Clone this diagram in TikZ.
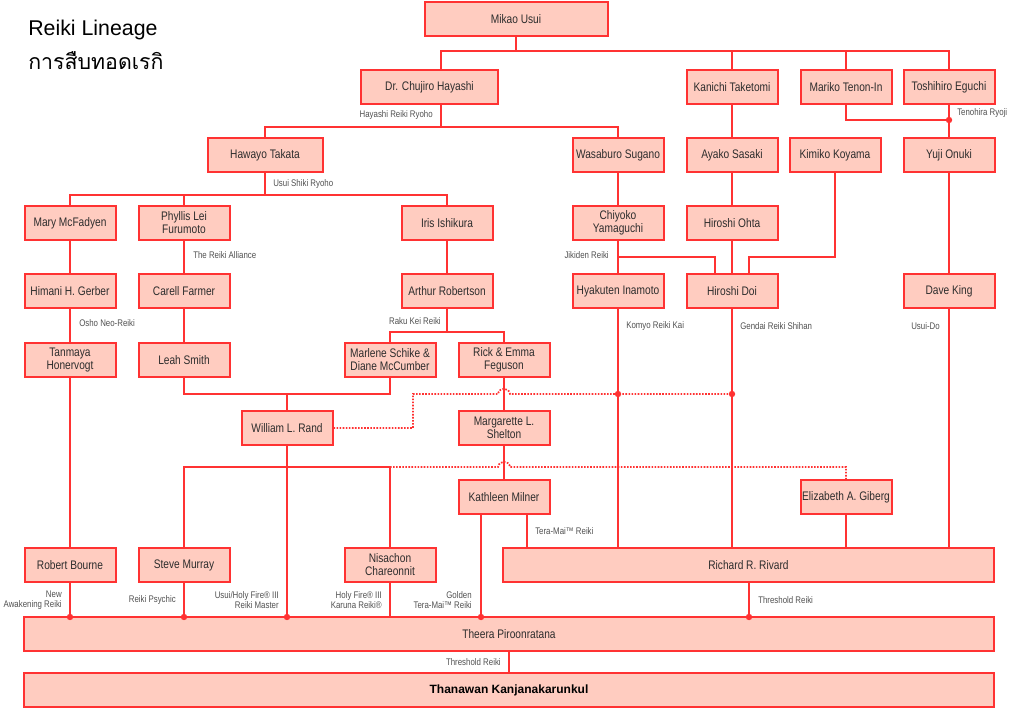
\documentclass[tikz,border=0pt]{standalone}
\usepackage{fontspec}
\setmainfont{Liberation Sans}
\newfontfamily\cond[FakeStretch=0.82]{Liberation Sans}
\newfontfamily\thaifont[Script=Thai]{Loma}
\definecolor{bred}{RGB}{255,50,50}
\definecolor{bfill}{RGB}{255,204,192}
\definecolor{btext}{RGB}{45,45,45}
\definecolor{ltext}{RGB}{80,80,80}
\tikzset{
 box/.style={draw=bred, fill=bfill, line width=1.5pt, minimum height=25.5pt, inner sep=1pt, align=center, text=btext, font=\cond\fontsize{9.3}{9.8}\selectfont},
 bw/.style={minimum width=#1*0.75pt},
 con/.style={draw=bred, line width=1.5pt},
 dotcon/.style={con, line width=1.3pt, dash pattern=on 1.2pt off 1.1pt},
 lab/.style={text=ltext, font=\cond\fontsize{7.2}{7.8}\selectfont, inner sep=0pt},
 jdot/.style={fill=bred},
}
\begin{document}
\begin{tikzpicture}[x=0.75pt,y=-0.75pt]
\path[use as bounding box] (0,0) rectangle (1024,709);
% title
\node[anchor=base west, inner sep=0pt, font=\fontsize{16}{18}\selectfont, text=black] (title) at (28,36) {Reiki Lineage};
\node[anchor=base west, inner sep=0pt, font=\thaifont\fontsize{16}{18}\selectfont, text=black] (titleth) at (28,70) {การสืบทอดเรกิ};
% nodes
\node[box,bw=183] (mikao) at (516,19) {Mikao Usui};
\node[box,bw=137] (hayashi) at (429.5,87) {Dr. Chujiro Hayashi};
\node[box,bw=91] (kanichi) at (732,87) {Kanichi Taketomi};
\node[box,bw=91] (mariko) at (846,87) {Mariko Tenon-In};
\node[box,bw=91] (toshihiro) at (949,87) {Toshihiro Eguchi};
\node[box,bw=115] (takata) at (265,155) {Hawayo Takata};
\node[box,bw=91] (sugano) at (618,155) {Wasaburo Sugano};
\node[box,bw=91] (sasaki) at (732,155) {Ayako Sasaki};
\node[box,bw=91] (koyama) at (835,155) {Kimiko Koyama};
\node[box,bw=91] (onuki) at (949,155) {Yuji Onuki};
\node[box,bw=91] (mcfadyen) at (70,223) {Mary McFadyen};
\node[box,bw=91] (furumoto) at (184,223) {Phyllis Lei\\Furumoto};
\node[box,bw=91] (ishikura) at (447,223) {Iris Ishikura};
\node[box,bw=91] (yamaguchi) at (618,223) {Chiyoko\\Yamaguchi};
\node[box,bw=91] (ohta) at (732,223) {Hiroshi Ohta};
\node[box,bw=91] (gerber) at (70,291) {Himani H. Gerber};
\node[box,bw=91] (farmer) at (184,291) {Carell Farmer};
\node[box,bw=91] (robertson) at (447,291) {Arthur Robertson};
\node[box,bw=91] (inamoto) at (618,291) {Hyakuten Inamoto};
\node[box,bw=91] (doi) at (732,291) {Hiroshi Doi};
\node[box,bw=91] (king) at (949,291) {Dave King};
\node[box,bw=91] (honervogt) at (70,360) {Tanmaya\\Honervogt};
\node[box,bw=91] (smith) at (184,360) {Leah Smith};
\node[box,bw=91] (schike) at (390,360) {Marlene Schike \&\\Diane McCumber};
\node[box,bw=91] (feguson) at (504,360) {Rick \& Emma\\Feguson};
\node[box,bw=91] (rand) at (287,428) {William L. Rand};
\node[box,bw=91] (shelton) at (504,428) {Margarette L.\\Shelton};
\node[box,bw=91] (milner) at (504,497) {Kathleen Milner};
\node[box,bw=91] (giberg) at (846,497) {Elizabeth A. Giberg};
\node[box,bw=91] (bourne) at (70,565) {Robert Bourne};
\node[box,bw=91] (murray) at (184,565) {Steve Murray};
\node[box,bw=91] (nisachon) at (390,565) {Nisachon\\Chareonnit};
\node[box,bw=491] (rivard) at (748.5,565) {Richard R. Rivard};
\node[box,bw=970] (theera) at (509,634) {Theera Piroonratana};
\node[box,bw=970, font=\fontsize{9}{10}\selectfont\bfseries, text=black] (thanawan) at (509,690) {Thanawan Kanjanakarunkul};
% junction coordinates
\coordinate (xh) at (441,0);
\coordinate (b1) at (516,51);
\coordinate (b2) at (441,127);
\coordinate (b3) at (265,195);
\coordinate (b4) at (846,120);
\coordinate (b5) at (618,257);
\coordinate (b6) at (835,257);
\coordinate (b7) at (447,332);
\coordinate (b8) at (184,394);
\coordinate (b9) at (184,467);
\coordinate (xa) at (715,0);
\coordinate (xb) at (749,0);
\coordinate (xm1) at (481,0);
\coordinate (xm2) at (527,0);
\coordinate (xr) at (749,0);
% connectors
\begin{scope}[every path/.style={con}]
\draw (mikao.south -| b1) -- (b1);
\draw (hayashi.north -| xh) |- (b1) -| (toshihiro.north);
\draw (b1 -| kanichi.north) -- (kanichi.north);
\draw (b1 -| mariko.north) -- (mariko.north);
\draw (hayashi.south -| xh) -- (b2);
\draw (takata.north) |- (b2) -| (sugano.north);
\draw (kanichi) -- (sasaki);
\draw (mariko.south) -- (b4) -- (b4 -| toshihiro.south);
\draw (toshihiro) -- (onuki);
\draw (takata.south) -- (b3);
\draw (mcfadyen.north) |- (b3) -| (ishikura.north);
\draw (b3 -| furumoto.north) -- (furumoto.north);
\draw (sugano) -- (yamaguchi);
\draw (sasaki) -- (ohta);
\draw (onuki) -- (king);
\draw (mcfadyen) -- (gerber);
\draw (furumoto) -- (farmer);
\draw (ishikura) -- (robertson);
\draw (yamaguchi) -- (inamoto);
\draw (b5) -| (doi.north -| xa);
\draw (ohta) -- (doi);
\draw (koyama.south) -- (b6) -| (doi.north -| xb);
\draw (gerber) -- (honervogt);
\draw (farmer) -- (smith);
\draw (robertson.south) -- (b7);
\draw (schike.north) |- (b7) -| (feguson.north);
\draw (smith.south) -- (b8) -| (schike.south);
\draw (rand.north) -- (rand.north |- b8);
\draw (feguson) -- (shelton);
\draw (shelton) -- (milner);
\draw (rand.south) -- (theera.north -| rand.south);
\draw (murray.north) |- (b9) -| (nisachon.north);
\draw (milner.south -| xm1) -- (theera.north -| xm1);
\draw (milner.south -| xm2) -- (rivard.north -| xm2);
\draw (giberg) -- (giberg |- rivard.north);
\draw (inamoto.south) -- (inamoto.south |- rivard.north);
\draw (doi.south) -- (doi.south |- rivard.north);
\draw (king.south) -- (king.south |- rivard.north);
\draw (honervogt) -- (bourne);
\draw (bourne.south) -- (bourne.south |- theera.north);
\draw (murray.south) -- (murray.south |- theera.north);
\draw (nisachon.south) -- (nisachon.south |- theera.north);
\draw (rivard.south -| xr) -- (theera.north -| xr);
\draw (theera) -- (thanawan);
\end{scope}
% dotted relations
\draw[dotcon] (rand.east) -- (413,428) -- (413,394) -- (498,394) .. controls (499,387) and (509,387) .. (510,394) -- (732,394);
\draw[dotcon] (nisachon.north |- b9) -- (498,467) .. controls (499,460) and (509,460) .. (510,467) -- (846,467) -- (giberg.north);
% junction dots
\foreach \p in {(949,120),(618,394),(732,394),(70,617),(184,617),(287,617),(481,617),(749,617)}
  \fill[jdot] \p circle (2.4pt);
% labels
\node[lab, anchor=east] (l1) at (433,115) {Hayashi Reiki Ryoho};
\node[lab, anchor=west] (l2) at (957,113) {Tenohira Ryoji};
\node[lab, anchor=west] (l3) at (273,184) {Usui Shiki Ryoho};
\node[lab, anchor=west] (l4) at (193,255) {The Reiki Alliance};
\node[lab, anchor=east] (l5) at (609,255) {Jikiden Reiki};
\node[lab, anchor=west] (l6) at (79,323) {Osho Neo-Reiki};
\node[lab, anchor=east] (l7) at (441,321) {Raku Kei Reiki};
\node[lab, anchor=west] (l8) at (626,326) {Komyo Reiki Kai};
\node[lab, anchor=west] (l9) at (740,326) {Gendai Reiki Shihan};
\node[lab, anchor=east] (l10) at (940,326) {Usui-Do};
\node[lab, anchor=west] (l11) at (535,531) {Tera-Mai™ Reiki};
\node[lab, anchor=east, align=right] (l12) at (62,600) {New\\Awakening Reiki};
\node[lab, anchor=east] (l13) at (176,600) {Reiki Psychic};
\node[lab, anchor=east, align=right] (l14) at (279,600) {Usui/Holy Fire® III\\Reiki Master};
\node[lab, anchor=east, align=right] (l15) at (382,600) {Holy Fire® III\\Karuna Reiki®};
\node[lab, anchor=east, align=right] (l16) at (472,600) {Golden\\Tera-Mai™ Reiki};
\node[lab, anchor=west] (l17) at (758,600) {Threshold Reiki};
\node[lab, anchor=east] (l18) at (501,662) {Threshold Reiki};
\end{tikzpicture}
\end{document}
